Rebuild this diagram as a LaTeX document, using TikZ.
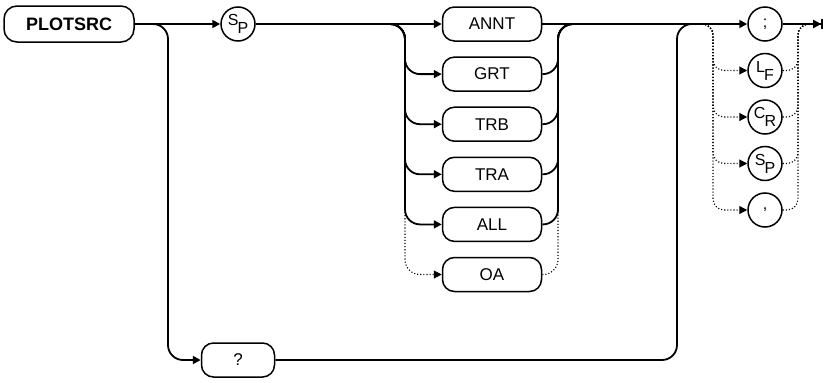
\documentclass[tikz,border=0pt]{standalone}
\usepackage{fontspec}
\setmainfont{Liberation Sans}
\usetikzlibrary{arrows.meta, positioning}
\tikzset{
	kw/.style       ={rectangle, rounded corners=12pt, draw=black, line width=1.5pt, minimum width=99pt, minimum height=34pt, inner sep=0pt, font=\fontsize{17}{19}\selectfont},
	chr/.style      ={circle, draw=black, line width=1.5pt, minimum size=34pt, inner sep=0pt, font=\fontsize{16}{17}\selectfont},
	sig/.style      ={line width=1.8pt, rounded corners=15pt},
	sigarrow/.style ={sig, -{Triangle[length=8pt, width=8pt]}},
	opt/.style      ={line width=1.1pt, dotted, rounded corners=11pt},
	optarrow/.style ={opt, -{Triangle[length=8pt, width=8pt]}},
}
\newcommand{\twochar}[2]{\raisebox{4pt}{#1}\kern-1pt\raisebox{-4pt}{#2}}

\begin{document}
\begin{tikzpicture}[x=1pt, y=-1pt, node distance=14.6pt]
	\useasboundingbox (0,0) rectangle (825,383);
	% keyword and separator
	\node[kw, font=\bfseries\fontsize{18}{20}\selectfont, minimum width=130pt, minimum height=36pt, rounded corners=13pt] (plot) at (69,24) {PLOTSRC};
	\node[chr] (sp) at (238,24) {\twochar{S}{P}};
	% sources
	\node[kw] (annt) at (492,24) {ANNT};
	\node[kw, below=of annt] (grt) {GRT};
	\node[kw, below=of grt] (trb) {TRB};
	\node[kw, below=of trb] (tra) {TRA};
	\node[kw, below=of tra] (all) {ALL};
	\node[kw, below=of all] (oa) {OA};
	% terminators
	\node[chr] (semi) at (765,24) {;};
	\node[chr, below=11pt of semi] (lf) {\twochar{L}{F}};
	\node[chr, below=11pt of lf] (cr) {\twochar{C}{R}};
	\node[chr, below=11pt of cr] (spc) {\twochar{S}{P}};
	\node[chr, below=11pt of spc] (comma) {,};
	% query
	\node[kw, minimum width=73pt] (qry) at (238,360) {?};
	% junctions
	\coordinate (qsplit) at (140,24);
	\coordinate (qturn) at (168,360);
	\coordinate (qup) at (677,24);
	\coordinate (qend) at (705,24);
	\coordinate (lsplit) at (385,24);
	\coordinate (lrail) at (405,24);
	\coordinate (rrail) at (558,24);
	\coordinate (rjoin) at (578,24);
	\coordinate (tsplit) at (699,24);
	\coordinate (trail) at (713,24);
	\coordinate (trrail) at (798,24);
	\coordinate (tjoin) at (812,24);
	\coordinate (fin) at (823,24);
	% main line
	\draw[sigarrow] (plot.east) -- (sp.west);
	\draw[sigarrow] (sp.east) -- (annt.west);
	\draw[sigarrow] (annt.east) -- (semi.west);
	\draw[sig, -{Triangle[length=8pt, width=8pt]Bar[width=10pt]}] (semi.east) -- (fin);
	% alternatives
	\foreach \k in {grt,trb,tra,all} {
		\draw[sigarrow] (lsplit) -| (lrail |- \k.west) -- (\k.west);
		\draw[sig] (\k.east) -| (rrail) -- (rjoin);
	}
	\draw[optarrow, rounded corners=15pt] (lsplit) -| (lrail |- oa.west) -- (oa.west);
	\draw[opt, rounded corners=15pt] (oa.east) -| (rrail) -- (rjoin);
	\foreach \k in {lf,cr,spc,comma} {
		\draw[optarrow] (tsplit) -| (trail |- \k.west) -- (\k.west);
		\draw[opt] (\k.east) -| (trrail) -- (tjoin);
	}
	% query branch
	\draw[sigarrow] (qsplit) -| (qturn) -- (qry.west);
	\draw[sig] (qry.east) -| (qup) -- (qend);
\end{tikzpicture}
\end{document}
